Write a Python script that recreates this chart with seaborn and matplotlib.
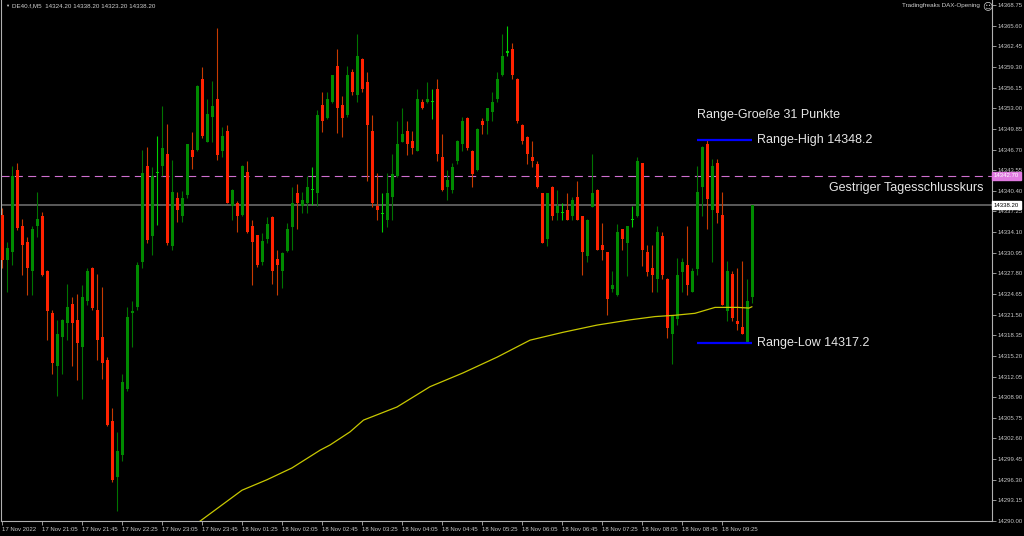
import numpy as np
import pandas as pd
import matplotlib
matplotlib.use("Agg")
import matplotlib.pyplot as plt
import matplotlib.transforms as mtransforms
import seaborn as sns

# DE40 M5 candles, oldest first (17 Nov 20:25 .. 18 Nov 09:55)
opens = [
    14336.7, 14329.8, 14331.1, 14343.6, 14335.1, 14332.6, 14328.1, 14335.1, 14336.6, 14328.2,
    14321.7, 14313.6, 14318.1, 14320.2, 14323.1, 14320.7, 14316.6, 14323.6, 14328.6, 14322.2,
    14318.1, 14314.6, 14305.2, 14296.7, 14300.1, 14310.1, 14321.7, 14322.6, 14329.6, 14344.2,
    14333.5, 14343.1, 14344.2, 14346.0, 14332.0, 14339.3, 14336.6, 14339.7, 14346.6, 14346.6,
    14357.5, 14347.9, 14351.6, 14354.4, 14346.4, 14349.5, 14338.1, 14338.6, 14336.7, 14343.2,
    14335.1, 14333.6, 14329.5, 14333.0, 14336.4, 14330.0, 14328.2, 14331.2, 14334.9, 14340.0,
    14338.1, 14338.5, 14340.5, 14340.0, 14353.5, 14351.5, 14353.9, 14359.5, 14353.5, 14352.0,
    14358.5, 14355.0, 14360.5, 14357.0, 14349.5, 14338.1, 14336.9, 14336.0, 14339.5, 14342.7,
    14347.9, 14349.5, 14348.0, 14346.5, 14354.0, 14353.9, 14354.0, 14355.9, 14345.5, 14341.0,
    14340.5, 14345.0, 14347.5, 14351.5, 14346.5, 14343.5, 14351.1, 14351.0, 14352.5, 14354.4,
    14358.0, 14361.5, 14362.0, 14357.5, 14350.5, 14348.6, 14345.5, 14344.5, 14340.0, 14333.0,
    14341.0, 14337.0, 14337.0, 14337.5, 14336.5, 14339.5, 14336.6, 14330.5, 14338.0, 14340.5,
    14332.1, 14331.1, 14325.4, 14324.5, 14334.6, 14332.5, 14336.0, 14336.5, 14344.6, 14331.1,
    14328.6, 14327.0, 14333.5, 14327.0, 14318.5, 14320.9, 14328.0, 14329.0, 14325.0, 14328.5,
    14341.0, 14347.6, 14337.5, 14344.6, 14336.7, 14322.1, 14327.7, 14320.6, 14319.6, 14317.2, 14324.2,
]
highs = [
    14337.7, 14332.6, 14344.2, 14344.6, 14336.1, 14333.4, 14335.1, 14340.2, 14337.1, 14328.3,
    14322.2, 14320.7, 14320.8, 14326.1, 14324.2, 14324.7, 14326.0, 14328.6, 14328.7, 14327.7,
    14325.7, 14315.1, 14307.2, 14303.6, 14312.5, 14322.6, 14323.6, 14329.6, 14346.6, 14347.1,
    14344.1, 14348.8, 14353.3, 14350.6, 14345.1, 14340.2, 14340.3, 14347.6, 14349.3, 14356.6,
    14359.3, 14354.4, 14357.2, 14365.3, 14350.2, 14350.4, 14340.6, 14338.8, 14344.3, 14344.9,
    14335.9, 14333.7, 14333.9, 14336.4, 14336.5, 14331.4, 14331.0, 14335.5, 14341.0, 14341.5,
    14340.2, 14342.6, 14344.1, 14352.7, 14355.5, 14355.5, 14358.1, 14362.0, 14354.8, 14359.5,
    14359.0, 14364.4, 14360.6, 14358.5, 14352.0, 14343.1, 14340.0, 14343.1, 14346.0, 14351.1,
    14353.0, 14351.1, 14349.5, 14355.9, 14354.4, 14357.0, 14355.9, 14357.5, 14349.0, 14343.5,
    14344.6, 14348.1, 14351.6, 14351.6, 14346.6, 14350.0, 14351.5, 14353.1, 14355.5, 14358.5,
    14364.4, 14365.5, 14363.0, 14357.6, 14350.6, 14348.7, 14348.0, 14345.0, 14340.1, 14340.1,
    14341.1, 14340.5, 14338.5, 14340.1, 14339.5, 14341.9, 14336.6, 14336.1, 14346.0, 14340.6,
    14335.5, 14331.1, 14328.1, 14335.4, 14334.6, 14335.1, 14338.1, 14345.5, 14344.7, 14332.1,
    14332.1, 14335.0, 14334.1, 14327.1, 14321.5, 14330.1, 14330.1, 14335.0, 14328.6, 14344.2,
    14347.3, 14348.2, 14345.2, 14345.2, 14340.2, 14329.7, 14328.2, 14328.6, 14329.7, 14327.0, 14338.2,
]
lows = [
    14328.6, 14325.0, 14329.1, 14334.4, 14327.6, 14324.5, 14324.5, 14333.4, 14327.4, 14317.6,
    14312.5, 14309.1, 14312.5, 14317.6, 14313.6, 14311.5, 14308.6, 14323.0, 14322.2, 14314.6,
    14311.6, 14304.5, 14296.0, 14291.6, 14299.1, 14309.9, 14316.6, 14322.2, 14328.6, 14332.5,
    14330.6, 14335.2, 14342.6, 14332.2, 14331.4, 14335.7, 14335.7, 14339.3, 14343.7, 14346.5,
    14348.4, 14347.8, 14347.9, 14345.1, 14345.6, 14338.5, 14335.9, 14334.1, 14336.6, 14333.9,
    14326.0, 14328.8, 14329.0, 14332.5, 14326.2, 14324.5, 14325.5, 14331.1, 14331.4, 14334.5,
    14337.0, 14337.0, 14338.2, 14338.1, 14349.4, 14351.4, 14353.8, 14349.2, 14348.6, 14351.7,
    14355.0, 14354.0, 14355.5, 14341.9, 14338.0, 14335.9, 14334.1, 14334.9, 14336.0, 14342.5,
    14347.8, 14345.9, 14346.0, 14346.4, 14352.9, 14353.8, 14351.4, 14344.9, 14340.4, 14339.0,
    14340.0, 14344.5, 14346.5, 14346.6, 14341.0, 14343.4, 14349.0, 14349.0, 14351.1, 14354.0,
    14357.9, 14361.0, 14357.5, 14350.8, 14347.5, 14344.5, 14344.0, 14340.9, 14332.4, 14332.0,
    14336.0, 14336.0, 14335.9, 14335.9, 14335.9, 14335.9, 14327.6, 14329.6, 14337.9, 14331.3,
    14329.9, 14321.4, 14324.9, 14324.4, 14331.4, 14327.4, 14334.9, 14336.4, 14328.9, 14327.4,
    14325.0, 14325.0, 14326.9, 14318.0, 14313.9, 14319.9, 14325.0, 14324.5, 14324.9, 14327.6,
    14336.5, 14334.6, 14329.6, 14335.5, 14322.9, 14320.5, 14320.5, 14319.2, 14318.5, 14317.2, 14323.2,
]
closes = [
    14329.8, 14331.6, 14342.6, 14334.7, 14332.1, 14328.6, 14334.6, 14336.1, 14327.6, 14322.1,
    14314.1, 14318.6, 14320.7, 14322.6, 14320.2, 14317.1, 14324.2, 14328.2, 14322.5, 14317.6,
    14314.1, 14304.7, 14296.2, 14300.7, 14311.2, 14321.2, 14322.1, 14329.1, 14343.1, 14332.9,
    14342.6, 14343.2, 14346.9, 14332.4, 14340.2, 14337.4, 14339.3, 14347.5, 14345.6, 14356.4,
    14348.8, 14352.1, 14353.4, 14345.9, 14348.7, 14338.6, 14340.5, 14336.5, 14344.2, 14334.1,
    14332.6, 14329.0, 14332.8, 14335.3, 14328.2, 14329.0, 14330.9, 14334.5, 14338.6, 14338.5,
    14339.0, 14341.0, 14340.6, 14352.0, 14351.0, 14354.4, 14358.0, 14353.0, 14351.5, 14358.0,
    14355.5, 14361.0, 14355.9, 14350.5, 14338.5, 14337.5, 14337.0, 14340.0, 14343.0, 14347.5,
    14349.0, 14347.5, 14347.0, 14354.4, 14353.0, 14354.4, 14354.1, 14346.0, 14340.5, 14342.0,
    14344.0, 14348.0, 14351.1, 14347.0, 14343.0, 14349.9, 14350.5, 14353.0, 14353.9, 14357.5,
    14361.0, 14361.6, 14358.0, 14351.0, 14348.0, 14346.0, 14345.0, 14341.0, 14332.5, 14340.0,
    14336.5, 14338.1, 14337.1, 14336.0, 14339.0, 14336.0, 14331.0, 14336.0, 14340.1, 14331.4,
    14331.4, 14323.9, 14326.0, 14334.1, 14333.0, 14335.0, 14336.1, 14345.0, 14331.4, 14328.0,
    14327.5, 14334.1, 14327.5, 14319.5, 14321.5, 14327.6, 14329.6, 14326.0, 14328.1, 14340.2,
    14347.1, 14339.1, 14344.2, 14337.0, 14323.0, 14328.2, 14321.0, 14320.1, 14318.6, 14323.6, 14338.2,
]

# moving average (yellow line), read at a few bars
ma_bars = [38, 40, 48, 53, 58, 63.6, 65.6, 69.6, 72.3, 79, 85.6, 92.2, 99, 105.6,
           112.2, 119, 125.6, 130.6, 134.6, 138.6, 142.6, 147.2, 149.4, 150]
ma_values = [14289.1, 14290.2, 14294.7, 14296.3, 14298.1, 14300.8, 14301.6, 14303.6,
             14305.4, 14307.4, 14310.5, 14312.6, 14315.0, 14317.6, 14318.8, 14319.9,
             14320.7, 14321.2, 14321.4, 14321.7, 14322.6, 14322.6, 14322.5, 14322.7]

time_labels = ["17 Nov 2022", "17 Nov 21:05", "17 Nov 21:45", "17 Nov 22:25", "17 Nov 23:05",
               "17 Nov 23:45", "18 Nov 01:25", "18 Nov 02:05", "18 Nov 02:45", "18 Nov 03:25",
               "18 Nov 04:05", "18 Nov 04:45", "18 Nov 05:25", "18 Nov 06:05", "18 Nov 06:45",
               "18 Nov 07:25", "18 Nov 08:05", "18 Nov 08:45", "18 Nov 09:25"]
price_ticks = [14290.00, 14293.15, 14296.30, 14299.45, 14302.60, 14305.75, 14308.90,
               14312.05, 14315.20, 14318.35, 14321.50, 14324.65, 14327.80, 14330.95,
               14334.10, 14337.25, 14340.40, 14343.55, 14346.70, 14349.85, 14353.00,
               14356.15, 14359.30, 14362.45, 14365.60, 14368.75]

prev_close = 14342.70
last_price = 14338.20
range_high = 14348.2
range_low = 14317.2
range_start = 139  # 09:00 candle

df = pd.DataFrame({"open": opens, "high": highs, "low": lows, "close": closes})
df["bar"] = np.arange(len(df))

sns.set_theme(style="dark", rc={"axes.facecolor": "black", "figure.facecolor": "black",
                                "axes.grid": False, "lines.scale_dashes": False})
plt.rcParams['font.family'] = ['Liberation Sans', 'DejaVu Sans']
small_size = 4.3

fig = plt.figure(figsize=(10.24, 5.36), dpi=100)
ax = fig.add_axes([1 / 1024, 15 / 536, 991 / 1024, 521 / 536])
ax.set_facecolor("black")

up = df["close"] > df["open"] + 0.15
down = df["close"] < df["open"] - 0.15
body_col = np.where(up, "#008a00", np.where(down, "#ff2200", "#00d000"))
wick_col = np.where(up, "#007400", np.where(down, "#c83a00", "#00d000"))

ax.vlines(df["bar"], df["low"], df["high"], colors=wick_col, lw=0.8, zorder=2)
body_low = np.minimum(df["open"], df["close"])
body_h = np.maximum((df["close"] - df["open"]).abs(), 0.16)
ax.bar(df["bar"], body_h, bottom=body_low, width=0.6, color=body_col, linewidth=0, zorder=3)

sns.lineplot(x=ma_bars, y=ma_values, ax=ax, color="#c8c800", lw=0.9, zorder=4)

# yesterday close + current price line
ax.axhline(prev_close, color="#d070d0", lw=0.8, dashes=(5.8, 3.8), zorder=1)
ax.axhline(last_price, color="#6a6a6a", lw=1.2, zorder=1)

# opening range
last_bar = len(df) - 1
ax.hlines([range_high, range_low], range_start, last_bar, colors="#0000ff", lw=1.6, zorder=5)

txt = dict(color="#e6e6e6", fontsize=9, va="center", ha="left")
ax.text(139, 14352.0, "Range-Groeße 31 Punkte", **txt)
ax.text(151, range_high, f"Range-High {range_high}", **txt)
ax.text(151, range_low, f"Range-Low {range_low}", **txt)
ax.text(165.4, 14340.8, "Gestriger Tagesschlusskurs", **txt)

ax.set_xlim(-0.2, 198)
ax.set_ylim(14290.0, 14290.0 + 521 / 6.552)

ax.yaxis.tick_right()
ax.set_yticks(price_ticks)
ax.set_yticklabels([f"{p:.2f}" for p in price_ticks])
ax.set_xticks(np.arange(0, 8 * len(time_labels), 8))
ax.set_xticklabels(time_labels)
for lab in ax.get_xticklabels():
    lab.set_ha("left")
ax.tick_params(axis="both", direction="out", length=3, width=0.6, color="#b0b0b0",
               labelcolor="#c8c8c8", labelsize=small_size, pad=1)
ax.tick_params(axis="y", left=False, right=True)
ax.tick_params(axis="x", bottom=True)
ax.set_xlabel("")
ax.set_ylabel("")
for side in ["left", "right", "bottom"]:
    ax.spines[side].set_visible(True)
    ax.spines[side].set_color("#b0b0b0")
    ax.spines[side].set_linewidth(0.8)
ax.spines["top"].set_visible(False)

# price boxes on the right scale
tr = mtransforms.blended_transform_factory(ax.transAxes, ax.transData)
ax.text(1.002, prev_close, f"{prev_close:.2f}", transform=tr, fontsize=small_size,
        color="white", va="center", ha="left", clip_on=False, zorder=6,
        bbox=dict(facecolor="#e07ae0", edgecolor="#e07ae0", pad=1.2))
ax.text(1.002, last_price, f"{last_price:.2f}", transform=tr, fontsize=small_size,
        color="black", va="center", ha="left", clip_on=False, zorder=6,
        bbox=dict(facecolor="white", edgecolor="white", pad=1.2))

# header texts
fig.text(5 / 1024, 1 - 6 / 536, "▼", fontsize=3, color="#d0d0d0", va="center", ha="left")
fig.text(12 / 1024, 1 - 6 / 536, "DE40.f,M5  14324.20 14338.20 14323.20 14338.20",
         fontsize=4.5, color="#d0d0d0", va="center", ha="left")
fig.text(980 / 1024, 1 - 6 / 536, "Tradingfreaks DAX-Opening", fontsize=4.5,
         color="#d0d0d0", va="center", ha="right")
fig.text(982 / 1024, 1 - 6 / 536, "☺", fontsize=7, color="#d0d0d0", va="center",
         ha="left", family="DejaVu Sans")

fig.savefig("out.png", dpi=100, facecolor="black")
